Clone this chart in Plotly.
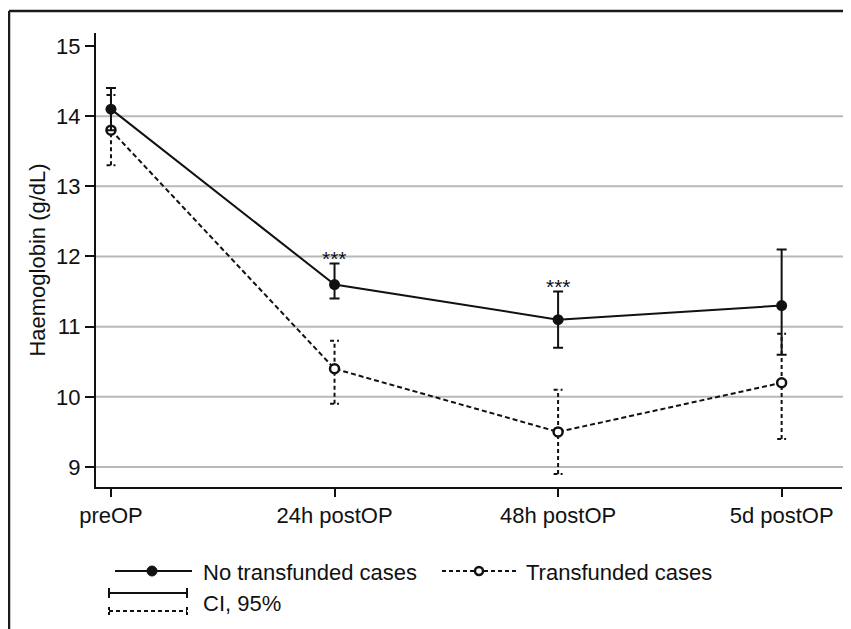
import plotly.graph_objects as go

categories = ["preOP", "24h postOP", "48h postOP", "5d postOP"]
x_pos = [0, 1, 2, 3]

no_tx_mean = [14.1, 11.6, 11.1, 11.3]
no_tx_lo = [13.8, 11.4, 10.7, 10.6]
no_tx_hi = [14.4, 11.9, 11.5, 12.1]

tx_mean = [13.8, 10.4, 9.5, 10.2]
tx_lo = [13.3, 9.9, 8.9, 9.4]
tx_hi = [14.3, 10.8, 10.1, 10.9]

signif = ["", "***", "***", ""]

y_ticks = [9, 10, 11, 12, 13, 14, 15]
grid_vals = [9, 10, 11, 12, 13, 14]

FONT = "Liberation Sans, Arial, sans-serif"
BLACK = "#111111"
DASH = "5px,3px"

OFF = 8  # page body margin
W, H = 851 - OFF, 629 - OFF
L, R, T, B = 96 - OFF, 9, 33 - OFF, 142
pw = W - L - R
ph = H - T - B


def px(xs):
    return (xs - OFF - L) / pw


def py(ys):
    return (H - B - (ys - OFF)) / ph


fig = go.Figure()

# dashed CI bars for transfunded cases
cap = 0.02
bx, by = [], []
for xi, lo, hi in zip(x_pos, tx_lo, tx_hi):
    bx += [xi, xi, None, xi - cap, xi + cap, None, xi - cap, xi + cap, None]
    by += [lo, hi, None, lo, lo, None, hi, hi, None]
fig.add_trace(go.Scatter(x=bx, y=by, mode="lines",
                         line=dict(color=BLACK, width=2, dash="4px,3px"),
                         hoverinfo="skip", showlegend=False))

# transfunded cases line
fig.add_trace(go.Scatter(x=x_pos, y=tx_mean, mode="lines+markers",
                         name="Transfunded cases",
                         line=dict(color=BLACK, width=2, dash=DASH),
                         marker=dict(symbol="circle", size=9, color="white",
                                     line=dict(color=BLACK, width=2.5)),
                         showlegend=False))

# no transfunded cases with solid error bars
fig.add_trace(go.Scatter(x=x_pos, y=no_tx_mean, mode="lines+markers",
                         name="No transfunded cases",
                         line=dict(color=BLACK, width=2),
                         marker=dict(symbol="circle", size=11, color=BLACK),
                         error_y=dict(type="data", symmetric=False,
                                      array=[h - m for h, m in zip(no_tx_hi, no_tx_mean)],
                                      arrayminus=[m - l for m, l in zip(no_tx_mean, no_tx_lo)],
                                      color=BLACK, thickness=2, width=5),
                         showlegend=False))

# significance marks
for xi, hi, s in zip(x_pos, no_tx_hi, signif):
    if s:
        fig.add_annotation(x=xi, y=hi, text=s, showarrow=False, yanchor="middle",
                           yshift=5, font=dict(family=FONT, size=21, color=BLACK))

shapes = []
# grid lines
for g in grid_vals:
    shapes.append(dict(type="line", xref="paper", yref="y", x0=0, x1=px(846), y0=g, y1=g,
                       line=dict(color="#b9b9b9", width=2), layer="below"))

# outer frame (top + left)
shapes.append(dict(type="line", xref="paper", yref="paper", x0=px(9), x1=px(851),
                   y0=py(11), y1=py(11), line=dict(color="#1a1a1a", width=2.5)))
shapes.append(dict(type="line", xref="paper", yref="paper", x0=px(9), x1=px(9),
                   y0=py(11), y1=py(629), line=dict(color="#1a1a1a", width=2.5)))

# legend: no transfunded
shapes.append(dict(type="line", xref="paper", yref="paper", x0=px(115), x1=px(192),
                   y0=py(571), y1=py(571), line=dict(color=BLACK, width=2)))
shapes.append(dict(type="circle", xref="paper", yref="paper", xsizemode="pixel", ysizemode="pixel",
                   xanchor=px(152), yanchor=py(571), x0=-5, x1=5, y0=-5, y1=5,
                   fillcolor=BLACK, line=dict(color=BLACK, width=1)))
# legend: transfunded
shapes.append(dict(type="line", xref="paper", yref="paper", x0=px(442), x1=px(518),
                   y0=py(571), y1=py(571), line=dict(color=BLACK, width=2, dash="4px,3px")))
shapes.append(dict(type="circle", xref="paper", yref="paper", xsizemode="pixel", ysizemode="pixel",
                   xanchor=px(479), yanchor=py(571), x0=-4, x1=4, y0=-4, y1=4,
                   fillcolor="white", line=dict(color=BLACK, width=2.5)))
# legend: CI solid
shapes.append(dict(type="line", xref="paper", yref="paper", x0=px(109), x1=px(187),
                   y0=py(593), y1=py(593), line=dict(color=BLACK, width=2)))
for xx in (109, 187):
    shapes.append(dict(type="line", xref="paper", yref="paper", x0=px(xx), x1=px(xx),
                       y0=py(588), y1=py(598), line=dict(color=BLACK, width=2)))
# legend: CI dashed
shapes.append(dict(type="line", xref="paper", yref="paper", x0=px(109), x1=px(187),
                   y0=py(611), y1=py(611), line=dict(color=BLACK, width=2, dash="4px,3px")))
for xx in (109, 187):
    shapes.append(dict(type="line", xref="paper", yref="paper", x0=px(xx), x1=px(xx),
                       y0=py(607), y1=py(616), line=dict(color=BLACK, width=2, dash="3px,2px")))

legend_texts = [("No transfunded cases", 203, 572), ("Transfunded cases", 526, 572), ("CI, 95%", 203, 603)]
for txt, xx, yy in legend_texts:
    fig.add_annotation(xref="paper", yref="paper", x=px(xx), y=py(yy), text=txt, showarrow=False,
                       xanchor="left", yanchor="middle", xshift=-2,
                       font=dict(family=FONT, size=22, color=BLACK))

fig.update_layout(
    width=W, height=H,
    margin=dict(l=L, r=R, t=T, b=B),
    paper_bgcolor="white", plot_bgcolor="white",
    font=dict(family=FONT, size=22, color=BLACK),
    shapes=shapes,
    showlegend=False,
    xaxis=dict(range=[-0.067, 3.27], tickvals=x_pos, ticktext=categories,
               showgrid=False, zeroline=False, showline=True, linecolor=BLACK, linewidth=2,
               ticks="outside", ticklen=8, tickwidth=2, tickcolor=BLACK,
               tickfont=dict(family=FONT, size=22, color=BLACK)),
    yaxis=dict(range=[8.715, 15.185], tickvals=y_ticks,
               showgrid=False, zeroline=False, showline=True, linecolor=BLACK, linewidth=2,
               ticks="outside", ticklen=9, tickwidth=2, tickcolor=BLACK,
               tickfont=dict(family=FONT, size=22, color=BLACK),
               title=dict(text="Haemoglobin (g/dL)", standoff=4,
                          font=dict(family=FONT, size=22, color=BLACK))),
)

fig.write_html("out.html")
